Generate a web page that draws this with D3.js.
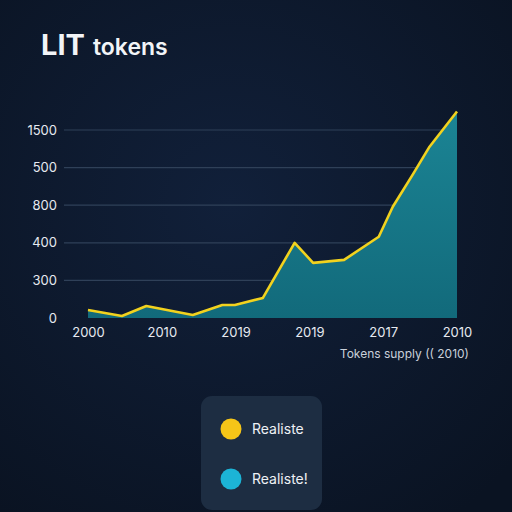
<!DOCTYPE html>
<html>
<head>
<meta charset="utf-8">
<script src="https://cdn.jsdelivr.net/npm/d3@7"></script>
<style>
  html, body { margin: 0; padding: 0; background: #0c1627; }
  svg { display: block; }
</style>
</head>
<body>
<script>
// x position is a fractional index over the six tick slots
const pointIndex = [0, 0.46, 0.79, 1.07, 1.42, 1.82, 1.99, 2.37, 2.80, 3.05, 3.47, 3.94, 4.13, 4.40, 4.62, 5];
const supply = [64, 16, 96, 64, 24, 104, 104, 160, 600, 440, 464, 648, 888, 1144, 1360, 1648];

const xLabels = ["2000", "2010", "2019", "2019", "2017", "2010"];
const yTickValues = [0, 300, 600, 900, 1200, 1500];
const yTickLabels = ["0", "300", "400", "800", "500", "1500"];

const legendNames = ["Realiste", "Realiste!"];
const legendColors = ["#f5c518", "#1cb4d6"];

const width = 512, height = 512;
const font = "Inter, 'Open Sans', sans-serif";

const svg = d3.select("body").append("svg")
    .attr("width", width)
    .attr("height", height);

const defs = svg.append("defs");
const bg = defs.append("radialGradient").attr("id", "bg")
    .attr("cx", "45%").attr("cy", "40%").attr("r", "75%");
bg.append("stop").attr("offset", "0%").attr("stop-color", "#11203a");
bg.append("stop").attr("offset", "100%").attr("stop-color", "#0a1322");

const areaGrad = defs.append("linearGradient").attr("id", "areaGrad")
    .attr("x1", 0).attr("y1", 0).attr("x2", 0).attr("y2", 1);
areaGrad.append("stop").attr("offset", "0%").attr("stop-color", "#1b8494");
areaGrad.append("stop").attr("offset", "100%").attr("stop-color", "#126a7b");

svg.append("rect").attr("width", width).attr("height", height).attr("fill", "url(#bg)");

// title
const title = svg.append("text")
    .attr("x", 41).attr("y", 55)
    .attr("fill", "#f2f4f7")
    .attr("font-family", font);
title.append("tspan").attr("font-size", 29).attr("font-weight", 700).text("LIT");
title.append("tspan").attr("font-size", 23).attr("font-weight", 600).attr("dx", 8).text("tokens");

const x = d3.scaleLinear().domain([0, 5]).range([88, 457]);
const y = d3.scaleLinear().domain([0, 1500]).range([318, 130]);

// grid
svg.append("g")
  .selectAll("line")
  .data(yTickValues.slice(1))
  .join("line")
    .attr("x1", 64).attr("x2", 457)
    .attr("y1", d => y(d)).attr("y2", d => y(d))
    .attr("stroke", "#2f4058")
    .attr("stroke-width", 1.2);

// y axis
const yAxis = svg.append("g")
    .attr("transform", "translate(59,0)")
    .call(d3.axisLeft(y).tickValues(yTickValues)
        .tickFormat((d, i) => yTickLabels[i]).tickSize(0).tickPadding(2));
yAxis.select(".domain").remove();
yAxis.selectAll("text")
    .attr("fill", "#e6eaf0")
    .attr("font-size", 13)
    .attr("font-family", font);

// area + line
const data = pointIndex.map((d, i) => ({ i: d, v: supply[i] }));

svg.append("path")
    .datum(data)
    .attr("fill", "url(#areaGrad)")
    .attr("d", d3.area().x(d => x(d.i)).y0(y(0)).y1(d => y(d.v)));

svg.append("path")
    .datum(data)
    .attr("fill", "none")
    .attr("stroke", "#f2d21e")
    .attr("stroke-width", 2.6)
    .attr("stroke-linejoin", "round")
    .attr("d", d3.line().x(d => x(d.i)).y(d => y(d.v)));

// x axis
const xAxis = svg.append("g")
    .attr("transform", "translate(0,324)")
    .call(d3.axisBottom(x).tickValues(d3.range(xLabels.length))
        .tickFormat((d, i) => xLabels[i]).tickSize(0).tickPadding(4));
xAxis.select(".domain").remove();
xAxis.selectAll("text")
    .attr("fill", "#e6eaf0")
    .attr("font-size", 13)
    .attr("font-family", font);

svg.append("text")
    .attr("x", 469).attr("y", 358)
    .attr("text-anchor", "end")
    .attr("fill", "#c9d0da")
    .attr("font-size", 12)
    .attr("font-family", font)
    .text("Tokens supply (( 2010)");

// legend
const legend = svg.append("g");
legend.append("rect")
    .attr("x", 201).attr("y", 396)
    .attr("width", 121).attr("height", 114)
    .attr("rx", 11)
    .attr("fill", "#1d2d42");

const items = legend.selectAll("g.item")
  .data(legendNames)
  .join("g")
    .attr("transform", (d, i) => `translate(231,${429 + i * 50})`);
items.append("circle")
    .attr("r", 10.5)
    .attr("fill", (d, i) => legendColors[i]);
items.append("text")
    .attr("x", 21).attr("y", 5)
    .attr("fill", "#eef1f5")
    .attr("font-size", 14)
    .attr("font-family", font)
    .text(d => d);
</script>
</body>
</html>
